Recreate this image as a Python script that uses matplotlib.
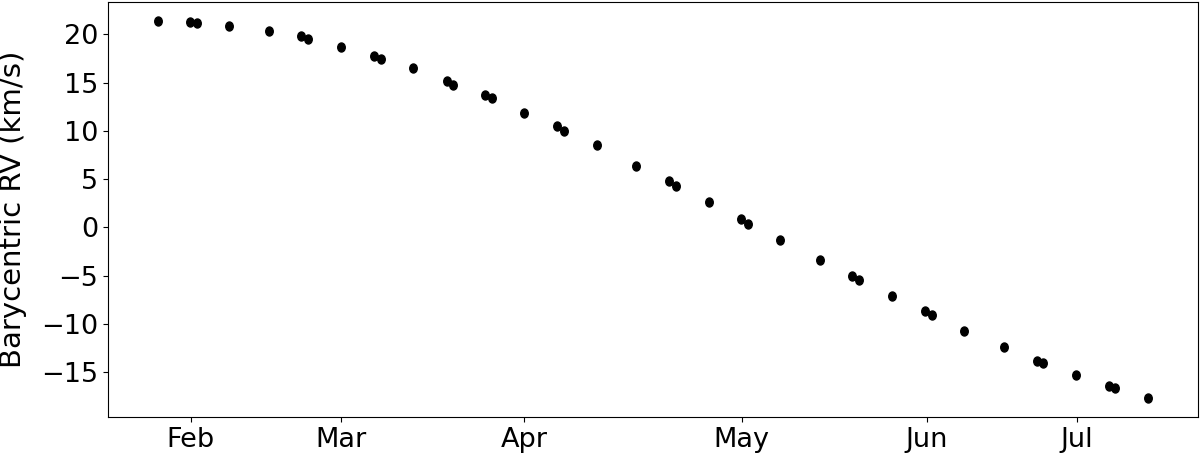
import matplotlib
matplotlib.use("Agg")
import matplotlib.pyplot as plt
from matplotlib.path import Path
from matplotlib.ticker import MultipleLocator
import numpy as np

# observation epochs (days since first observation) and barycentric RV (km/s)
obs_day = [0.0, 6.1, 7.5, 13.7, 21.2, 27.3, 28.7, 35.0, 41.2, 42.6, 48.7,
           55.2, 56.3, 62.4, 63.7, 69.9, 76.2, 77.5, 83.7, 91.2, 97.4, 98.7,
           105.0, 111.1, 112.5, 118.6, 126.2, 132.3, 133.7, 139.9, 146.2, 147.6,
           153.6, 161.2, 167.5, 168.8, 175.0, 181.3, 182.5, 188.8]
rv = [21.4, 21.3, 21.2, 20.9, 20.4, 19.8, 19.5, 18.7, 17.8, 17.5, 16.5,
      15.2, 14.8, 13.7, 13.4, 11.9, 10.5, 10.0, 8.5, 6.4, 4.8, 4.3,
      2.6, 0.9, 0.4, -1.3, -3.4, -5.05, -5.5, -7.1, -8.7, -9.1,
      -10.7, -12.45, -13.8, -14.1, -15.3, -16.4, -16.7, -17.7]

tick_day = [6.35, 35.0, 69.9, 111.3, 146.6, 175.2]
tick_lab = ["Feb", "Mar", "Apr", "May", "Jun", "Jul"]

plt.rcParams["font.size"] = 19.5

# slightly tall dots, as in the reference
circ = Path.unit_circle()
dot = Path(circ.vertices * np.array([1.0, 1.2]), circ.codes)

fig = plt.figure(figsize=(12, 4.59), dpi=100)
ax = fig.add_axes([0.09, 0.0915, 0.9083, 0.904])
ax.plot(obs_day, rv, ls="none", marker=dot, color="black", markersize=6.5)
ax.set_xticks(tick_day)
ax.set_xticklabels(tick_lab)
ax.yaxis.set_major_locator(MultipleLocator(5))
ax.set_ylabel("Barycentric RV (km/s)", fontsize=21)
ax.yaxis.set_label_coords(-0.0743, 0.5)

fig.savefig("out.png", dpi=100)
